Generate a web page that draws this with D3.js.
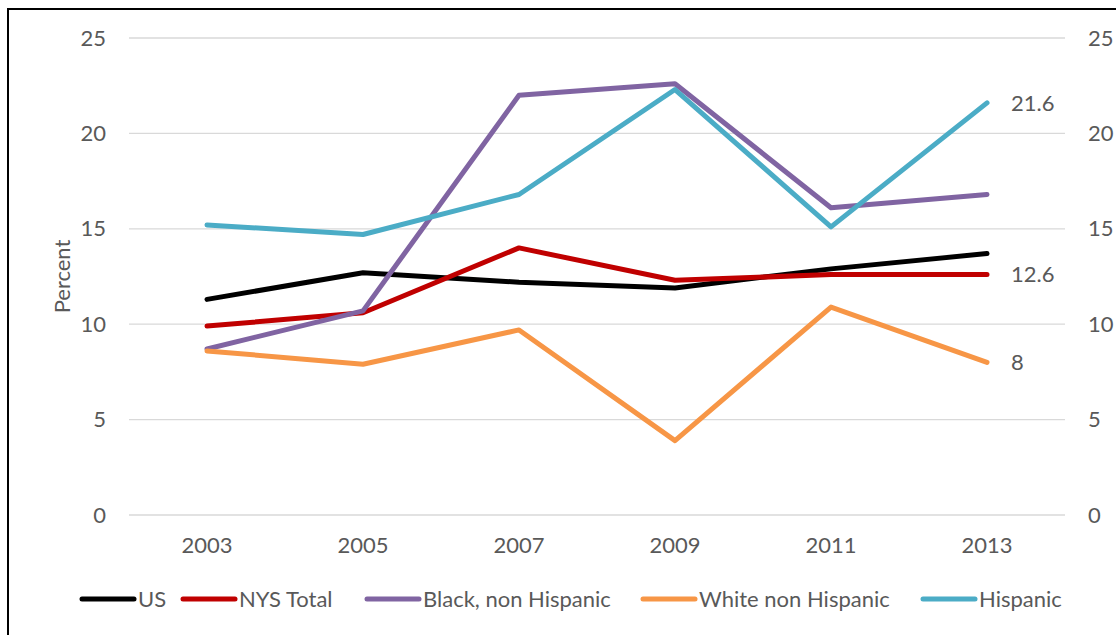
<!DOCTYPE html>
<html><head><meta charset="utf-8">
<script src="https://cdn.jsdelivr.net/npm/d3@7"></script>
<style>body{margin:0;background:#fff}svg{display:block}</style>
</head><body>
<svg id="c" width="1116" height="635"></svg>
<script>
const years = ["2003","2005","2007","2009","2011","2013"];
const usVals = [11.3,12.7,12.2,11.9,12.9,13.7];
const nysVals = [9.9,10.6,14.0,12.3,12.6,12.6];
const blackVals = [8.7,10.7,22.0,22.6,16.1,16.8];
const whiteVals = [8.6,7.9,9.7,3.9,10.9,8.0];
const hispVals = [15.2,14.7,16.8,22.3,15.1,21.6];
const yTicks = [0,5,10,15,20,25];
const seriesNames = ["US","NYS Total","Black, non Hispanic","White non Hispanic","Hispanic"];
const seriesColors = ["#000000","#C00000","#8064A2","#F79646","#4BACC6"];
const labelled = [{s:4,t:"21.6"},{s:1,t:"12.6"},{s:3,t:"8"}];

const series = [usVals,nysVals,blackVals,whiteVals,hispVals];
const font = "Lato, sans-serif";
const svg = d3.select("#c");
svg.append("rect").attr("x",8).attr("y",9).attr("width",1116).attr("height",640)
  .attr("fill","none").attr("stroke","#000").attr("stroke-width",2);

const L=129,R=1065,T=38,B=515;
const x = d3.scaleBand().domain(years).range([L,R]);
const y = d3.scaleLinear().domain([0,25]).range([B,T]);

const g = svg.append("g");
g.selectAll("line.grid").data(yTicks).join("line")
  .attr("x1",L).attr("x2",R).attr("y1",d=>y(d)).attr("y2",d=>y(d))
  .attr("stroke","#D9D9D9").attr("stroke-width",1.3);

const txt = (sel)=>sel.attr("font-family",font).attr("font-size",22).attr("fill","#595959");

const yl = svg.append("g").attr("transform",`translate(${L},0)`).call(d3.axisLeft(y).tickValues(yTicks).tickSize(0).tickPadding(23));
yl.select(".domain").remove();
txt(yl.selectAll("text"));
const yr = svg.append("g").attr("transform",`translate(${R},0)`).call(d3.axisRight(y).tickValues(yTicks).tickSize(0).tickPadding(23));
yr.select(".domain").remove();
txt(yr.selectAll("text"));
const xa = svg.append("g").attr("transform",`translate(0,${B})`).call(d3.axisBottom(x).tickSize(0).tickPadding(22));
xa.select(".domain").remove();
txt(xa.selectAll("text"));

txt(svg.append("text").attr("transform",`translate(62,${(T+B)/2}) rotate(-90)`).attr("text-anchor","middle").attr("dy","0.35em").text("Percent"));

const line = d3.line().x((d,i)=>x(years[i])+x.bandwidth()/2).y(d=>y(d));
series.forEach((s,i)=>{
  g.append("path").attr("d",line(s)).attr("fill","none").attr("stroke",seriesColors[i])
   .attr("stroke-width",5).attr("stroke-linejoin","round").attr("stroke-linecap","round");
});

labelled.forEach(l=>{
  const v = series[l.s][years.length-1];
  txt(svg.append("text").attr("x",x(years[years.length-1])+x.bandwidth()/2+24).attr("y",y(v)).attr("dy","0.35em").text(l.t));
});

const legX = [82,183,367,643,923];
const leg = svg.append("g");
seriesNames.forEach((n,i)=>{
  leg.append("line").attr("x1",legX[i]).attr("x2",legX[i]+52).attr("y1",599).attr("y2",599)
    .attr("stroke",seriesColors[i]).attr("stroke-width",5).attr("stroke-linecap","round");
  txt(leg.append("text").attr("x",legX[i]+56).attr("y",599).attr("dy","0.35em").text(n));
});
</script>
</body></html>
